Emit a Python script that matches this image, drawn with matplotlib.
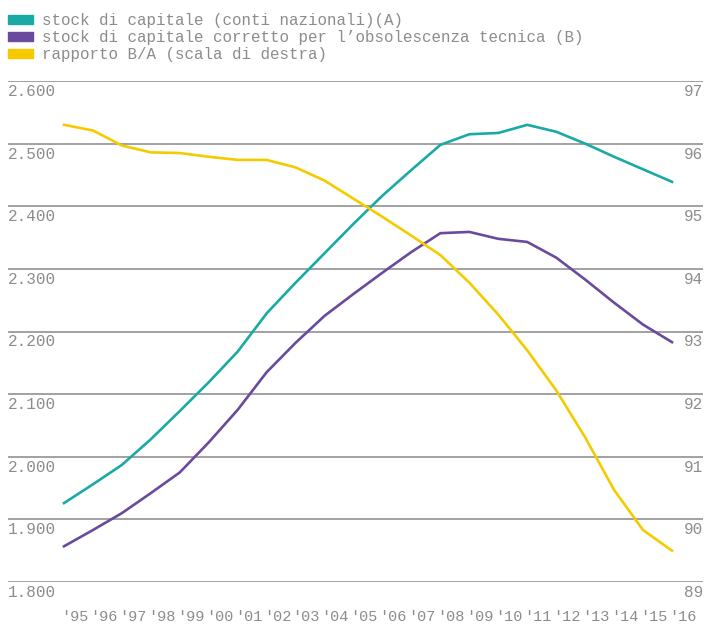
import matplotlib
matplotlib.use("Agg")
import matplotlib.pyplot as plt
import matplotlib.transforms as mtransforms
from matplotlib.patches import Patch

years = list(range(1995, 2017))
year_labels = ["'" + str(y)[2:] for y in years]

stock_A = [1926, 1956, 1987, 2028, 2073, 2119, 2168, 2229, 2278, 2325, 2372,
           2417, 2458, 2498, 2515, 2517, 2530, 2519, 2500, 2479, 2459, 2439]
stock_B = [1857, 1883, 1910, 1942, 1975, 2023, 2075, 2135, 2182, 2225, 2260,
           2294, 2327, 2357, 2359, 2348, 2343, 2318, 2283, 2246, 2211, 2183]
ratio_BA = [96.30, 96.21, 95.97, 95.86, 95.85, 95.79, 95.74, 95.74, 95.62, 95.41, 95.12,
            94.83, 94.53, 94.22, 93.78, 93.27, 92.70, 92.06, 91.31, 90.47, 89.83, 89.50]

left_ticks = [1800, 1900, 2000, 2100, 2200, 2300, 2400, 2500, 2600]
left_labels = ["1.800", "1.900", "2.000", "2.100", "2.200", "2.300", "2.400", "2.500", "2.600"]
right_ticks = [89, 90, 91, 92, 93, 94, 95, 96, 97]

labels = ["stock di capitale (conti nazionali)(A)",
          "stock di capitale corretto per l\u2019obsolescenza tecnica (B)",
          "rapporto B/A (scala di destra)"]

C_A = "#1aaaa6"
C_B = "#6a4a9c"
C_R = "#f5cb00"
TXT = "#8c8c8c"
GRID = "#9a9a9a"
FONT = "Liberation Mono"

W, H = 705, 626
fig = plt.figure(figsize=(W / 100, H / 100), dpi=100)
ax = fig.add_axes([8 / W, 1 - 582 / H, 695 / W, 501 / H])
ax2 = ax.twinx()

ax.set_ylim(1800, 2600)
ax2.set_ylim(89, 97)
px_per_year = 608 / 21
ax.set_xlim(1995 - 56 / px_per_year, 2016 + 31 / px_per_year)

for a in (ax, ax2):
    for s in a.spines.values():
        s.set_visible(False)
    a.tick_params(left=False, right=False, bottom=False, top=False,
                  labelleft=False, labelright=False)

for v in left_ticks:
    ax.axhline(v, color=GRID, lw=1.3, zorder=0)

ax.plot(years, stock_A, color=C_A, lw=1.9, zorder=3)
ax.plot(years, stock_B, color=C_B, lw=1.9, zorder=3)
ax2.plot(years, ratio_BA, color=C_R, lw=1.9, zorder=3)

# y labels (inside, below gridlines)
off_down = mtransforms.ScaledTranslation(0, -3 / 100, fig.dpi_scale_trans)
for v, lab in zip(left_ticks, left_labels):
    ax.text(0, v, lab, transform=ax.get_yaxis_transform() + off_down,
            ha="left", va="top", fontsize=11.5, color=TXT, family=FONT)
for v in right_ticks:
    ax2.text(1, v, str(v), transform=ax2.get_yaxis_transform() + off_down,
             ha="right", va="top", fontsize=11.5, color=TXT, family=FONT)

# x labels
ax.set_xticks(years)
ax.set_xticklabels(year_labels, fontsize=11, color=TXT, family=FONT, ha="left")
ax.tick_params(axis="x", labelbottom=True, length=0, pad=20.5)
shift = mtransforms.ScaledTranslation(-3 / 100, 0, fig.dpi_scale_trans)
for t in ax.get_xticklabels():
    t.set_transform(t.get_transform() + shift)

handles = [Patch(color=C_A), Patch(color=C_B), Patch(color=C_R)]
leg = fig.legend(handles, labels, loc="upper left", bbox_to_anchor=(8 / W, 1 - 13 / H),
                 frameon=False, prop={"family": FONT, "size": 11.4},
                 handlelength=1.58, handleheight=0.44, handletextpad=0.55,
                 labelspacing=0.13, borderaxespad=0, borderpad=0)
for t in leg.get_texts():
    t.set_color(TXT)

fig.savefig("out.png", dpi=100)
